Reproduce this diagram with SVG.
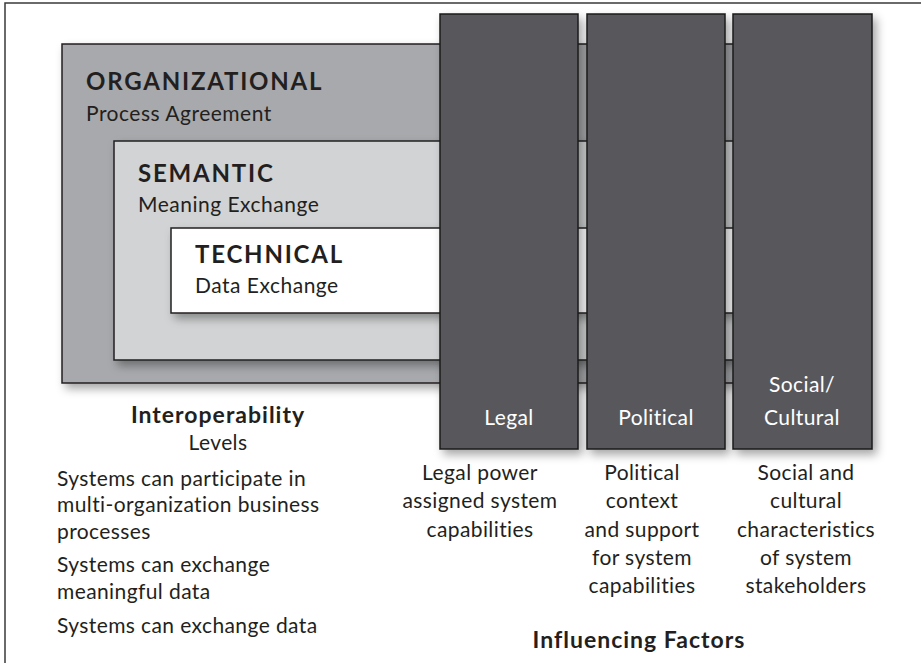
<svg xmlns="http://www.w3.org/2000/svg" width="921" height="663" viewBox="0 0 921 663">
<defs>
<filter id="sh" x="-10%" y="-10%" width="130%" height="130%">
<feDropShadow dx="4" dy="5" stdDeviation="5" flood-color="#000" flood-opacity="0.35"/>
</filter>
</defs>
<style>
text{font-family:Lato,"Liberation Sans",sans-serif;fill:#231f20}
.t{font-weight:bold;font-size:24px;letter-spacing:1.8px}
.s{font-size:21px;letter-spacing:0.5px}
.b{font-size:21px;letter-spacing:0.4px}
.c{font-size:21px;letter-spacing:0.4px;text-anchor:middle}
.h{font-weight:bold;font-size:23px;letter-spacing:1px;text-anchor:middle}
.w{fill:#ffffff}
.lvl{stroke:#231f20;stroke-width:1.5}
.col{fill:#58595b;stroke:#1a1a1a;stroke-width:1.5}
</style>
<rect x="5" y="3" width="930" height="680" fill="#ffffff" stroke="#3a3a3a" stroke-width="1.5"/>
<g id="organizational">
<rect class="lvl" x="62" y="44" width="740" height="339" fill="#a7a9ac" filter="url(#sh)"/>
<text class="t" x="86" y="90">ORGANIZATIONAL</text>
<text class="s" x="86" y="121">Process Agreement</text>
</g>
<g id="semantic">
<rect class="lvl" x="114" y="141" width="688" height="219" fill="#d1d3d4" filter="url(#sh)"/>
<text class="t" x="138" y="182">SEMANTIC</text>
<text class="s" x="138" y="212">Meaning Exchange</text>
</g>
<g id="technical">
<rect class="lvl" x="171" y="228" width="631" height="85" fill="#ffffff" filter="url(#sh)"/>
<text class="t" x="195" y="263">TECHNICAL</text>
<text class="s" x="195" y="293">Data Exchange</text>
</g>
<g id="legal">
<rect class="col" x="440" y="14" width="138" height="435" filter="url(#sh)"/>
<text class="c w" x="509" y="425">Legal</text>
</g>
<g id="political">
<rect class="col" x="587" y="14" width="138" height="435" filter="url(#sh)"/>
<text class="c w" x="656" y="425">Political</text>
</g>
<g id="social">
<rect class="col" x="733" y="14" width="139" height="435" filter="url(#sh)"/>
<text class="c w" x="802" y="392">Social/</text>
<text class="c w" x="802" y="425">Cultural</text>
</g>
<g id="connectors"></g>
<g id="levels-caption">
<text class="h" x="218" y="423">Interoperability</text>
<text class="c" x="218" y="450">Levels</text>
<text class="b" x="57" y="486">Systems can participate in</text>
<text class="b" x="57" y="512">multi-organization business</text>
<text class="b" x="57" y="539">processes</text>
<text class="b" x="57" y="572">Systems can exchange</text>
<text class="b" x="57" y="599">meaningful data</text>
<text class="b" x="57" y="633">Systems can exchange data</text>
</g>
<g id="factors-caption">
<text class="c" x="480" y="480">Legal power</text>
<text class="c" x="480" y="508">assigned system</text>
<text class="c" x="480" y="537">capabilities</text>
<text class="c" x="642" y="480">Political</text>
<text class="c" x="642" y="508">context</text>
<text class="c" x="642" y="537">and support</text>
<text class="c" x="642" y="565">for system</text>
<text class="c" x="642" y="593">capabilities</text>
<text class="c" x="806" y="480">Social and</text>
<text class="c" x="806" y="508">cultural</text>
<text class="c" x="806" y="537">characteristics</text>
<text class="c" x="806" y="565">of system</text>
<text class="c" x="806" y="593">stakeholders</text>
<text class="h" x="639" y="648">Influencing Factors</text>
</g>
</svg>
